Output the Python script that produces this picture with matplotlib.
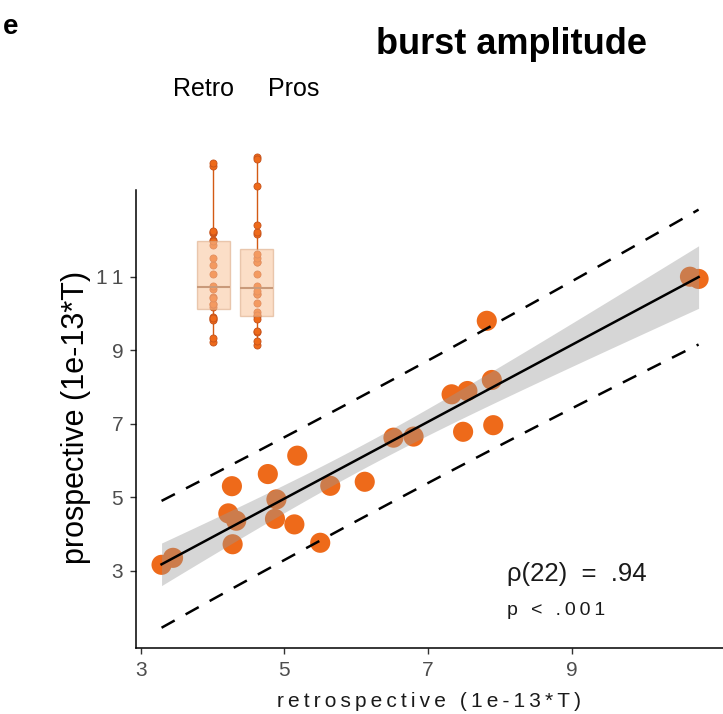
import numpy as np
import matplotlib
matplotlib.use("Agg")
import matplotlib.pyplot as plt

plt.rcParams['font.family'] = ['Liberation Sans', 'DejaVu Sans']

# Data (1e-13 T)
retro = [3.29, 3.45, 4.27, 4.22, 4.33, 4.28, 4.77, 5.18, 4.89, 4.87, 5.14, 5.50,
         5.64, 6.12, 7.82, 6.52, 6.80, 7.33, 7.55, 7.89, 7.49, 7.91, 10.65, 10.77]
pros = [3.16, 3.35, 5.30, 4.56, 4.36, 3.72, 5.63, 6.13, 4.94, 4.41, 4.26, 3.76,
        5.31, 5.42, 9.80, 6.62, 6.65, 7.80, 7.89, 8.19, 6.78, 6.96, 11.00, 10.94]
x_ticks = [3, 5, 7, 9]
y_ticks = [3, 5, 7, 9, 11]
group_names = ["Retro", "Pros"]
rho_text = "ρ(22)  =  .94"
p_text = "p < .001"

ORANGE = "#EE6A1A"
TICK_GRAY = "#4D4D4D"


def spaced(s):
    # letter spaced text like the original
    return "\u2009".join(s)


fig = plt.figure(figsize=(7.23, 7.14), dpi=100)
ax = fig.add_axes([0.1877, 0.092, 0.8123, 0.6419])

x = np.array(retro)
y = np.array(pros)
n = len(x)

# Scatter
ax.scatter(x, y, s=210, color=ORANGE, edgecolors="none", zorder=2, clip_on=False)

# Linear fit with confidence band and prediction interval
slope, icpt = np.polyfit(x, y, 1)
xs = np.linspace(x.min(), x.max(), 200)
yhat = icpt + slope * xs
resid = y - (icpt + slope * x)
s_err = np.sqrt(np.sum(resid ** 2) / (n - 2))
sxx = np.sum((x - x.mean()) ** 2)
t_crit = 2.074  # t(0.975, 22)
ci = t_crit * s_err * np.sqrt(1 / n + (xs - x.mean()) ** 2 / sxx)
pi = t_crit * s_err * np.sqrt(1 + 1 / n + (xs - x.mean()) ** 2 / sxx)

ax.fill_between(xs, yhat - ci, yhat + ci, color="#999999", alpha=0.4, lw=0, zorder=3)
ax.plot(xs, yhat, color="black", lw=1.8, zorder=4)
ax.plot(xs, yhat + pi, color="black", lw=1.8, ls=(0, (6.0, 5.0)), zorder=4)
ax.plot(xs, yhat - pi, color="black", lw=1.8, ls=(0, (6.0, 5.0)), zorder=4)

ax.set_xlim(2.93, 11.11)
ax.set_ylim(0.888, 13.36)
ax.set_xticks(x_ticks)
ax.set_xticklabels([spaced(str(v)) for v in x_ticks])
ax.set_yticks(y_ticks)
ax.set_yticklabels([spaced(str(v)) for v in y_ticks])
ax.tick_params(axis="both", colors="#333333", labelcolor=TICK_GRAY, labelsize=15,
               length=4, width=1, pad=5)
for side in ["top", "right"]:
    ax.spines[side].set_visible(False)
for side in ["left", "bottom"]:
    ax.spines[side].set_linewidth(1.1)
    ax.spines[side].set_color("black")

ax.text(0.7008, 0.196, rho_text, transform=fig.transFigure, fontsize=18.5,
        ha="left", va="center", color="#1a1a1a")
ax.text(0.7008, 0.145, spaced(p_text), transform=fig.transFigure, fontsize=14,
        ha="left", va="center", color="#1a1a1a")

# Axis labels
fig.text(0.5934, 0.0172, spaced("retrospective (1e-13*T)"), fontsize=15,
         ha="center", va="center", color="#1a1a1a")
fig.text(0.1048, 0.4150, "prospective (1e-13*T)", fontsize=22, rotation=90,
         ha="center", va="center", color="black")

# Titles
fig.text(0.015, 0.962, "e", fontsize=20, fontweight="bold", ha="center", va="center")
fig.text(0.7068, 0.937, "burst amplitude", fontsize=26, fontweight="bold",
         ha="center", va="center")
fig.text(0.2389, 0.8655, group_names[0], fontsize=18, ha="left", va="baseline")
fig.text(0.3711, 0.8655, group_names[1], fontsize=18, ha="left", va="baseline")

# Inset box plots
axin = fig.add_axes([0.2650, 0.4944, 0.1201, 0.3021])
axin.set_xlim(0.5, 2.5)
axin.set_ylim(2.5, 11.5)
axin.axis("off")

bp = axin.boxplot([retro, pros], positions=[1, 2], widths=0.767, patch_artist=True,
                  showfliers=False, whis=1.5, showcaps=False)
for box in bp["boxes"]:
    box.set_facecolor("#F9C39A")
    box.set_alpha(0.55)
    box.set_edgecolor("#D9A57F")
    box.set_linewidth(1)
    box.set_zorder(3)
for med in bp["medians"]:
    med.set_color("#C99A7A")
    med.set_linewidth(1.5)
    med.set_zorder(4)
for wh in bp["whiskers"]:
    wh.set_color("#D35A14")
    wh.set_linewidth(1)
    wh.set_zorder(1)

for i, vals in enumerate([retro, pros]):
    axin.scatter(np.full(len(vals), i + 1), vals, s=26, color=ORANGE,
                 edgecolors="#C4511A", linewidths=0.6, zorder=2)

fig.savefig("out.png", dpi=100)
